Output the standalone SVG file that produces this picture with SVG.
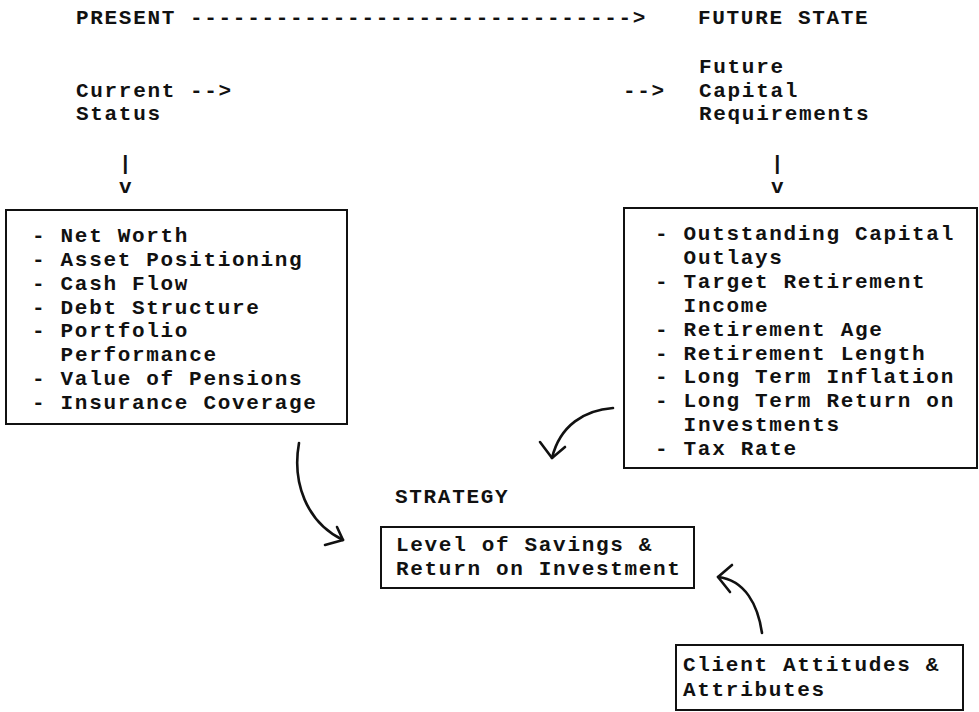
<svg xmlns="http://www.w3.org/2000/svg" width="979" height="712" viewBox="0 0 979 712">
<style>
  text { font-family: "Liberation Mono", "Courier New", monospace; font-size: 21px; letter-spacing: 1.68px; font-weight: bold; fill: #111; }
  .box { fill: none; stroke: #111; stroke-width: 2; }
  .curve { fill: none; stroke: #111; stroke-width: 2.6; stroke-linecap: round; stroke-linejoin: round; }
</style>
<rect width="979" height="712" fill="#fff"/>

<g id="present">
  <text x="76" y="24">PRESENT</text>
</g>
<g id="future-state">
  <text x="698" y="24">FUTURE STATE</text>
</g>
<g id="current-status">
  <text x="76" y="97">Current</text>
  <text x="76" y="120">Status</text>
</g>
<g id="future-capital">
  <text x="699" y="73">Future</text>
  <text x="699" y="97">Capital</text>
  <text x="699" y="120">Requirements</text>
</g>

<g id="status-list">
  <rect class="box" x="6" y="210" width="341" height="214"/>
  <text x="32" y="242">- Net Worth</text>
  <text x="32" y="266">- Asset Positioning</text>
  <text x="32" y="290">- Cash Flow</text>
  <text x="32" y="314">- Debt Structure</text>
  <text x="32" y="337">- Portfolio</text>
  <text x="60.6" y="361">Performance</text>
  <text x="32" y="385">- Value of Pensions</text>
  <text x="32" y="409">- Insurance Coverage</text>
</g>

<g id="requirements-list">
  <rect class="box" x="624" y="208" width="353" height="260"/>
  <text x="655" y="240">- Outstanding Capital</text>
  <text x="683.6" y="264">Outlays</text>
  <text x="655" y="288">- Target Retirement</text>
  <text x="683.6" y="312">Income</text>
  <text x="655" y="336">- Retirement Age</text>
  <text x="655" y="360">- Retirement Length</text>
  <text x="655" y="383">- Long Term Inflation</text>
  <text x="655" y="407">- Long Term Return on</text>
  <text x="683.6" y="431">Investments</text>
  <text x="655" y="455">- Tax Rate</text>
</g>

<g id="strategy">
  <text x="395" y="503">STRATEGY</text>
  <rect class="box" x="381" y="527" width="313" height="61"/>
  <text x="396" y="551">Level of Savings &amp;</text>
  <text x="396" y="575">Return on Investment</text>
</g>

<g id="client">
  <rect class="box" x="676" y="645" width="287" height="65"/>
  <text x="683" y="671">Client Attitudes &amp;</text>
  <text x="683" y="696">Attributes</text>
</g>

<g id="connectors">
  <text x="190" y="24">-------------------------------&gt;</text>
  <text x="190" y="97">--&gt;</text>
  <text x="623" y="97">--&gt;</text>
  <text x="119" y="170">|</text>
  <text x="119" y="193">v</text>
  <text x="771" y="170">|</text>
  <text x="771" y="193">v</text>
  <path class="curve" d="M299,443 C292,482 306,522 343,540"/>
  <path class="curve" d="M325,545 L343,540 L337,527"/>
  <path class="curve" d="M613,408 C585,410 560,425 552,458"/>
  <path class="curve" d="M540,442 L552,458 L565,447"/>
  <path class="curve" d="M762,633 C758,605 745,580 718,577"/>
  <path class="curve" d="M732,565 L718,577 L730,592"/>
</g>
</svg>
